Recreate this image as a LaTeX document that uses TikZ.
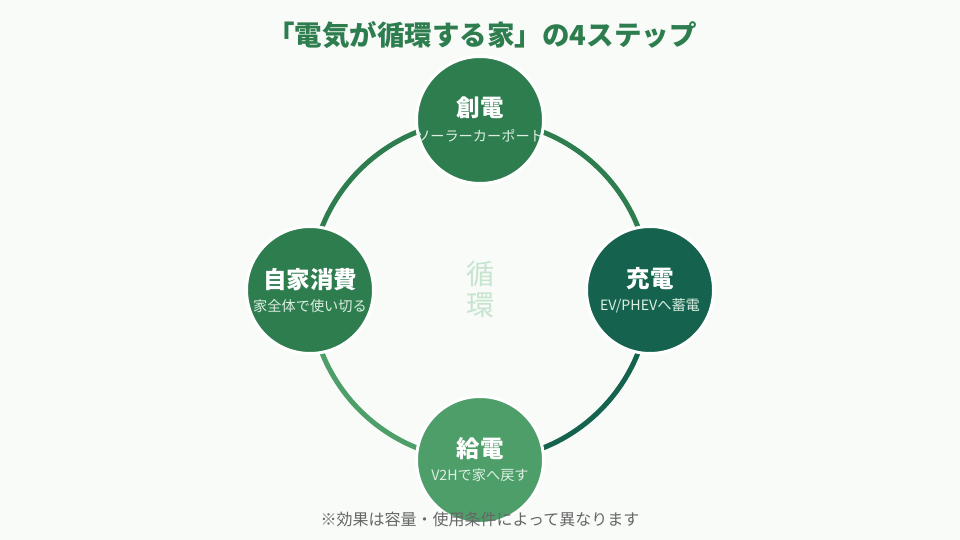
\documentclass[tikz,border=0pt]{standalone}
\usepackage{fontspec}
\setmainfont{Noto Sans CJK JP}
\definecolor{bg}{HTML}{F8FBF8}
\definecolor{gA}{HTML}{2E7D4F}
\definecolor{gB}{HTML}{15634E}
\definecolor{gC}{HTML}{4E9E6A}
\definecolor{subtxt}{HTML}{DCEFE2}
\definecolor{ctr}{HTML}{C6E4CF}
\definecolor{note}{HTML}{666666}
\tikzset{
  stepcircle/.style={circle, minimum size=127pt, inner sep=0pt, draw=white, line width=3pt},
  ttl/.style={text=white, font=\fontsize{23.5}{25}\selectfont\bfseries},
  sub/.style={text=subtxt, font=\fontsize{14.2}{16}\selectfont},
  ring/.style={line width=5pt},
  ctrtxt/.style={text=ctr, font=\fontsize{28}{30}\selectfont},
}
\begin{document}
\begin{tikzpicture}[x=1pt,y=-1pt]
\fill[bg] (0,0) rectangle (960,540);
\useasboundingbox (0,0) rectangle (960,540);
\coordinate (c) at (480,290);
% ring arcs (y axis points down, so angle -90 is up)
\draw[ring, gA] (480,120) arc[start angle=-90, end angle=0, radius=170];
\draw[ring, gB] (650,290) arc[start angle=0, end angle=90, radius=170];
\draw[ring, gC] (480,460) arc[start angle=90, end angle=180, radius=170];
\draw[ring, gA] (310,290) arc[start angle=180, end angle=270, radius=170];
% circles
\node[stepcircle, fill=gA] (top) at (480,120) {};
\node[stepcircle, fill=gB] (right) at (650,290) {};
\node[stepcircle, fill=gC] (bottom) at (480,460) {};
\node[stepcircle, fill=gA] (left) at (310,290) {};
% labels
\node[ttl] (topt) at (480,108) {創電};
\node[sub] (tops) at (480,136) {ソーラーカーポート};
\node[ttl] (rightt) at (650,279) {充電};
\node[sub] (rights) at (650,306) {EV/PHEVへ蓄電};
\node[ttl] (bottomt) at (480,449) {給電};
\node[sub] (bottoms) at (480,475) {V2Hで家へ戻す};
\node[ttl] (leftt) at (310,280) {自家消費};
\node[sub] (lefts) at (310,306) {家全体で使い切る};
% center
\node[ctrtxt] (c1) at (480,274) {循};
\node[ctrtxt] (c2) at (480,305) {環};
% title
\node[text=gA, font=\fontsize{27.5}{29}\selectfont\bfseries] (title) at (482,35) {「電気が循環する家」の4ステップ};
% note
\node[text=note, font=\fontsize{16}{18}\selectfont] (note) at (480,519) {※効果は容量・使用条件によって異なります};
\end{tikzpicture}
\end{document}
